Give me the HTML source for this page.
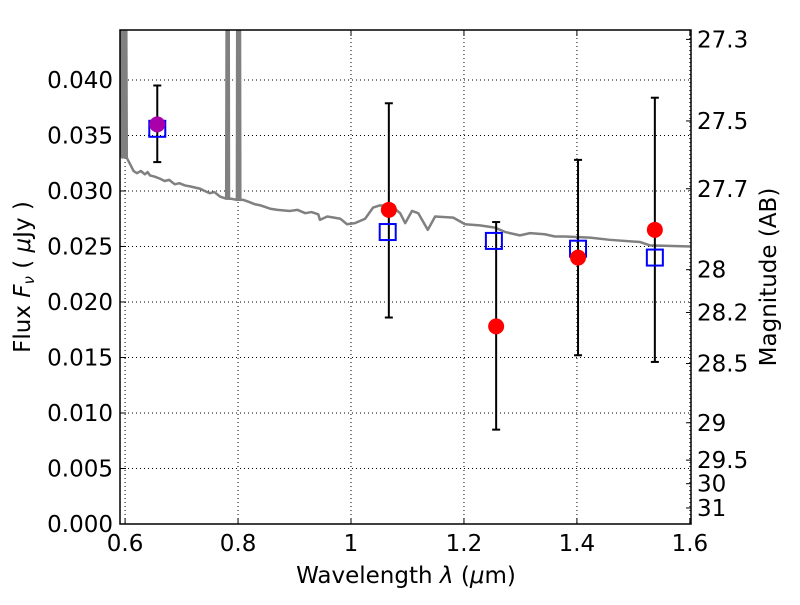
<!DOCTYPE html>
<html><head><meta charset="utf-8"><style>
body{margin:0;background:#fff}
svg text{font-family:"DejaVu Sans","Liberation Sans",sans-serif;fill:#000}
</style></head><body>
<svg id="chart" width="800" height="600" xmlns="http://www.w3.org/2000/svg"></svg>
<script>
const specWave=[0.591,0.593,0.595,0.597,0.599,0.601,0.603,0.605,0.609,0.615,0.621,0.628,0.635,0.640,0.644,0.652,0.662,0.670,0.678,0.688,0.696,0.706,0.716,0.733,0.741,0.750,0.758,0.768,0.779,0.7805,0.7815,0.782,0.783,0.784,0.788,0.798,0.799,0.800,0.801,0.802,0.803,0.804,0.809,0.820,0.830,0.840,0.857,0.870,0.892,0.905,0.919,0.930,0.942,0.945,0.958,0.970,0.981,0.993,1.007,1.025,1.039,1.051,1.073,1.087,1.096,1.108,1.119,1.136,1.149,1.181,1.202,1.228,1.255,1.273,1.299,1.317,1.343,1.361,1.379,1.423,1.458,1.512,1.529,1.602];
const specFlux=[0.033,0.06,0.033,0.06,0.033,0.06,0.033,0.0328,0.0324,0.0318,0.0316,0.0318,0.0315,0.0317,0.0314,0.0313,0.0311,0.0309,0.0310,0.0306,0.0307,0.0305,0.0304,0.0302,0.0300,0.0298,0.0299,0.0295,0.0293,0.06,0.06,0.0293,0.06,0.0293,0.0293,0.0292,0.06,0.0292,0.06,0.0292,0.06,0.0292,0.0292,0.0290,0.0288,0.0287,0.0284,0.0283,0.0282,0.0283,0.0280,0.0281,0.0279,0.0274,0.0277,0.0276,0.0275,0.0270,0.0271,0.0275,0.0285,0.0287,0.0286,0.0280,0.0271,0.0282,0.0280,0.0265,0.0277,0.0276,0.0270,0.0269,0.0267,0.0263,0.0260,0.0262,0.0261,0.0259,0.0259,0.0258,0.0256,0.0254,0.0251,0.0250];
const obsWave=[0.657,1.067,1.257,1.402,1.538];
const obsFlux=[0.0360,0.0283,0.0178,0.0240,0.0265];
const obsLo=[0.0326,0.0186,0.0085,0.0152,0.0146];
const obsHi=[0.0395,0.0379,0.0272,0.0328,0.0384];
const modWave=[0.657,1.065,1.253,1.402,1.538];
const modFlux=[0.0356,0.0263,0.0255,0.0248,0.0240];
const xTicks=[0.6,0.8,1.0,1.2,1.4,1.6];
const xTickLabels=["0.6","0.8","1","1.2","1.4","1.6"];
const yTicks=[0,0.005,0.01,0.015,0.02,0.025,0.03,0.035,0.04];
const yTickLabels=["0.000","0.005","0.010","0.015","0.020","0.025","0.030","0.035","0.040"];
const magTicks=[27.3,27.5,27.7,28,28.2,28.5,29,29.5,30,31];
const magLabels=["27.3","27.5","27.7","28","28.2","28.5","29","29.5","30","31"];

const L=120,R=691,T=30,B=524;
const x0=0.591,x1=1.602,y0=0,y1=0.0445;
const X=v=>L+(v-x0)/(x1-x0)*(R-L);
const Y=v=>B-(v-y0)/(y1-y0)*(B-T);
const svg=document.getElementById('chart');
const NS='http://www.w3.org/2000/svg';
function mk(tag,attrs,parent){const e=document.createElementNS(NS,tag);for(const k in attrs)e.setAttribute(k,attrs[k]);(parent||svg).appendChild(e);return e;}
const defs=mk('defs',{});const cp=mk('clipPath',{id:'c'},defs);mk('rect',{x:L,y:T,width:R-L,height:B-T},cp);

const grid=mk('g',{});


xTicks.forEach((v,i)=>{const px=X(v);
 if(px>L&&px<R){mk('line',{x1:px,x2:px,y1:T,y2:B,stroke:'#000','stroke-dasharray':'1,3','stroke-width':1},grid);}
 mk('line',{x1:px,x2:px,y1:B,y2:B-6,stroke:'#000'});
 mk('line',{x1:px,x2:px,y1:T,y2:T+6,stroke:'#000'});
 const lb=mk('text',{x:px,y:B+27,'text-anchor':'middle','font-size':23});lb.textContent=xTickLabels[i];
 
 
});
yTicks.forEach((v,i)=>{const py=Y(v);
 if(py<B&&py>T)mk('line',{x1:L,x2:R,y1:py,y2:py,stroke:'#000','stroke-dasharray':'1,3','stroke-width':1},grid);
 mk('line',{x1:L,x2:L+6,y1:py,y2:py,stroke:'#000'});
 const lb=mk('text',{x:L-7,y:py+8,'text-anchor':'end','font-size':23});lb.textContent=yTickLabels[i];
 
 
});
magTicks.forEach((m,i)=>{const f=Math.pow(10,(23.9-m)/2.5);const py=Y(f);
 mk('line',{x1:R,x2:R-5,y1:py,y2:py,stroke:'#000'});
 const lb=mk('text',{x:R+6,y:py+8,'font-size':23});lb.textContent=magLabels[i];
 
 
});

const spec=mk('polyline',{points:specWave.map((w,i)=>X(w)+','+Y(specFlux[i])).join(' '),fill:'none',stroke:'#808080','stroke-width':2.5,'clip-path':'url(#c)','stroke-linejoin':'round'});



obsWave.forEach((w,i)=>{const px=X(w);
 const g=mk('g',{});
 
 
 mk('line',{x1:px,x2:px,y1:Y(obsLo[i]),y2:Y(obsHi[i]),stroke:'#000','stroke-width':2},g);
 mk('line',{x1:px-4,x2:px+4,y1:Y(obsLo[i]),y2:Y(obsLo[i]),stroke:'#000','stroke-width':2},g);
 mk('line',{x1:px-4,x2:px+4,y1:Y(obsHi[i]),y2:Y(obsHi[i]),stroke:'#000','stroke-width':2},g);
});
modWave.forEach((w,i)=>{const r=mk('rect',{x:X(w)-8,y:Y(modFlux[i])-8,width:16,height:16,fill:'none',stroke:'#0000ff','stroke-width':2});
 
 
});
obsWave.forEach((w,i)=>{const c=mk('circle',{cx:X(w),cy:Y(obsFlux[i]),r:8,fill:i===0?'#aa00aa':'#ff0000'});
 
 
});

const frame=mk('rect',{x:L,y:T,width:R-L,height:B-T,fill:'none',stroke:'#000','stroke-width':1.5});



const xt=mk('text',{x:406,y:583,'text-anchor':'middle','font-size':23,'xml:space':'preserve'});
xt.innerHTML='Wavelength  <tspan font-style="italic">λ</tspan> (<tspan font-style="italic">μ</tspan>m)';


const yt=mk('text',{x:0,y:0,'text-anchor':'middle','font-size':23,transform:'translate(30,277) rotate(-90)','xml:space':'preserve'});
yt.innerHTML='Flux  <tspan font-style="italic">F</tspan><tspan font-style="italic" font-size="15" dy="4">ν</tspan><tspan dy="-4">  (  </tspan><tspan font-style="italic">μ</tspan>Jy )';


const rt=mk('text',{x:0,y:0,'text-anchor':'middle','font-size':23,transform:'translate(776,277) rotate(-90)'});
rt.textContent='Magnitude (AB)';


</script>
</body></html>
